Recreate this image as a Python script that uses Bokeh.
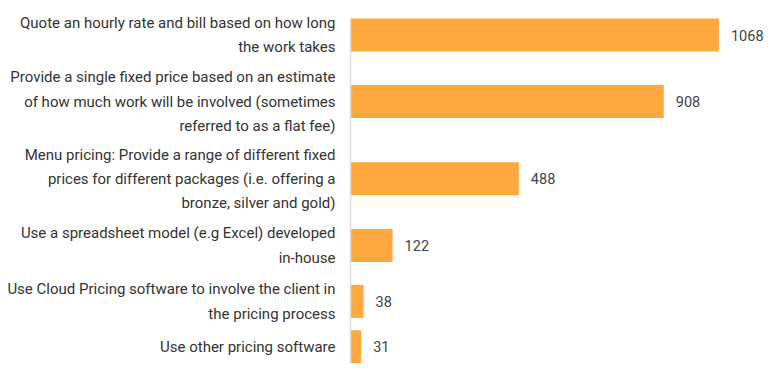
from bokeh.plotting import figure
from bokeh.models import ColumnDataSource, Range1d
from bokeh.core.properties import value
from bokeh.embed import file_html
from bokeh.resources import INLINE

# ---- data ----
categories = [
    "Quote an hourly rate and bill based on how long\nthe work takes",
    "Provide a single fixed price based on an estimate\nof how much work will be involved (sometimes\nreferred to as a flat fee)",
    "Menu pricing: Provide a range of different fixed\nprices for different packages (i.e. offering a\nbronze, silver and gold)",
    "Use a spreadsheet model (e.g Excel) developed\nin-house",
    "Use Cloud Pricing software to involve the client in\nthe pricing process",
    "Use other pricing software",
]
counts = [1068, 908, 488, 122, 38, 31]

# ---- layout ----
W, H = 768, 372
AXIS_PX = 350          # pixel position of the value axis (zero line)
PX_PER_UNIT = 0.345    # horizontal scale
BAR_H = 33
LINE_UNIT, BAND_PAD, TOP_OFF = 21.2, 13.6, 6.5

lines = [c.count("\n") + 1 for c in categories]
centers = []
pos = TOP_OFF
for i, n in enumerate(lines):
    band = LINE_UNIT * n + BAND_PAD
    centers.append(pos + band / 2)
    pos += band

x_start = -AXIS_PX / PX_PER_UNIT
x_end = (W - AXIS_PX) / PX_PER_UNIT

src = ColumnDataSource(dict(
    cat=categories, val=counts, y=centers,
    zero=[0] * len(counts), lbl=[str(v) for v in counts],
))

p = figure(width=W, height=H, output_backend="svg", toolbar_location=None,
           x_range=Range1d(x_start, x_end), y_range=Range1d(H, 0),
           min_border=0, min_border_left=0, min_border_right=0,
           min_border_top=0, min_border_bottom=0)
p.axis.visible = False
p.grid.visible = False
p.outline_line_color = None
p.background_fill_color = "white"
p.border_fill_color = "white"

p.hbar(y="y", left=0, right="val", height=BAR_H, source=src,
       fill_color="#FFA83F", line_color=None)

# zero axis line
p.segment(x0=[0], x1=[0], y0=[centers[0] - BAR_H / 2], y1=[centers[-1] + BAR_H / 2],
          line_color="#dedede", line_width=1.5)

# category labels
p.text(x="zero", y="y", text="cat", source=src, x_offset=-15,
       text_align="right", text_baseline="middle",
       text_font=value("Roboto"), text_font_size="15px",
       text_color="#333333", text_line_height=1.35)

# value labels
p.text(x="val", y="y", text="lbl", source=src, x_offset=12,
       text_align="left", text_baseline="middle",
       text_font=value("Roboto"), text_font_size="14.5px",
       text_color="#444444")

open("out.html", "w").write(file_html(p, INLINE))
